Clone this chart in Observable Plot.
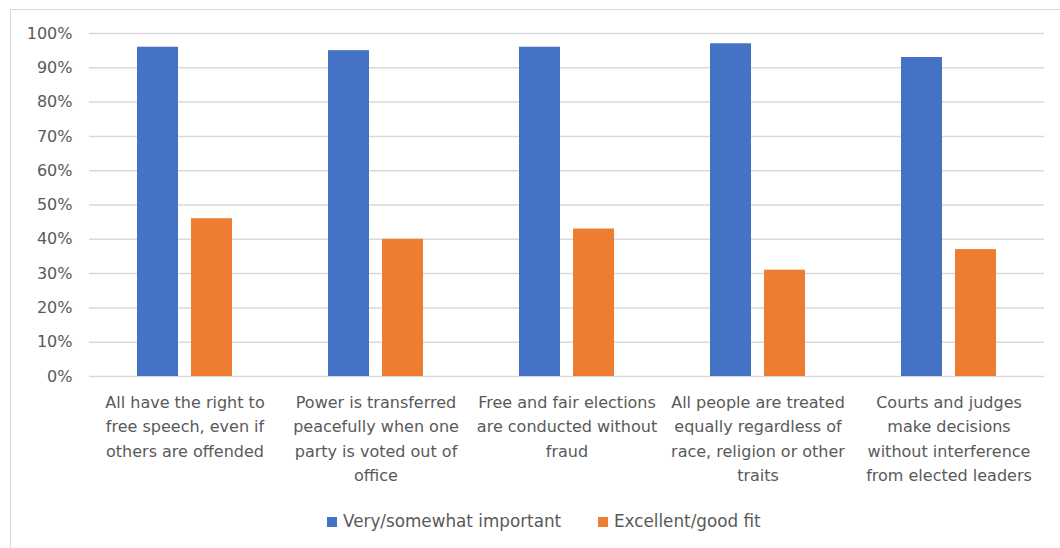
<!DOCTYPE html>
<html>
<head>
<meta charset="utf-8">
<script src="https://cdn.jsdelivr.net/npm/d3@7"></script>
<script src="https://cdn.jsdelivr.net/npm/@observablehq/plot@0.6"></script>
<style>
  html, body { margin: 0; padding: 0; background: #fff; }
  body { width: 1060px; height: 548px; position: relative; overflow: hidden; font-family: "DejaVu Sans", sans-serif; }
  #frame { position: absolute; left: 10px; top: 9px; width: 1100px; height: 600px; border-left: 1.5px solid #d9d9d9; border-top: 1.5px solid #d9d9d9; }
  #chart { position: absolute; left: 0; top: 0; }
  .lg { position: absolute; top: 510px; font-size: 16.8px; color: #595959; line-height: 22px; white-space: nowrap; }
  .sw { position: absolute; width: 10px; height: 10px; top: 517px; }
</style>
</head>
<body>
<div id="frame"></div>
<div id="chart"></div>
<script>
const categories = [
  "All have the right to\nfree speech, even if\nothers are offended",
  "Power is transferred\npeacefully when one\nparty is voted out of\noffice",
  "Free and fair elections\nare conducted without\nfraud",
  "All people are treated\nequally regardless of\nrace, religion or other\ntraits",
  "Courts and judges\nmake decisions\nwithout interference\nfrom elected leaders"
];
const series = ["Very/somewhat important", "Excellent/good fit"];
const important = [0.96, 0.95, 0.96, 0.97, 0.93];
const goodFit = [0.46, 0.40, 0.43, 0.31, 0.37];
const colors = ["#4472C4", "#ED7D31"];
const yTicks = [0, 0.1, 0.2, 0.3, 0.4, 0.5, 0.6, 0.7, 0.8, 0.9, 1.0];

const data = [];
categories.forEach((c, i) => {
  data.push({category: c, series: series[0], value: important[i]});
  data.push({category: c, series: series[1], value: goodFit[i]});
});

const chart = Plot.plot({
  width: 1060,
  height: 490,
  marginTop: 33,
  marginLeft: 87,
  marginRight: 14,
  marginBottom: 114,
  style: {fontFamily: "DejaVu Sans, sans-serif", fontSize: "16px", color: "#595959", background: "transparent"},
  fx: {domain: categories, padding: 0, label: null, axis: null},
  x: {domain: series, paddingInner: 0.236, paddingOuter: 0.862, axis: null},
  y: {domain: [0, 1], label: null, axis: null},
  color: {domain: series, range: colors},
  marks: [
    Plot.ruleY(yTicks, {stroke: "#d9d9d9", strokeWidth: 1.5}),
    Plot.barY(data, {fx: "category", x: "series", y: "value", fill: "series"}),
    Plot.axisY({ticks: yTicks, tickFormat: d3.format(".0%"), tickSize: 0, tickPadding: 17, fill: "#595959", fontSize: 16, label: null}),
    Plot.axisFx({anchor: "bottom", tickSize: 0, tickPadding: 14, lineHeight: 1.53, fill: "#595959", fontSize: 16, label: null})
  ]
});
document.getElementById("chart").appendChild(chart);

const legendPos = [{sw: 327, tx: 343}, {sw: 598, tx: 614}];
series.forEach((s, i) => {
  const sw = document.createElement("div");
  sw.className = "sw";
  sw.style.left = legendPos[i].sw + "px";
  sw.style.background = colors[i];
  document.body.appendChild(sw);
  const t = document.createElement("div");
  t.className = "lg";
  t.style.left = legendPos[i].tx + "px";
  t.textContent = s;
  document.body.appendChild(t);
});
</script>
</body>
</html>
